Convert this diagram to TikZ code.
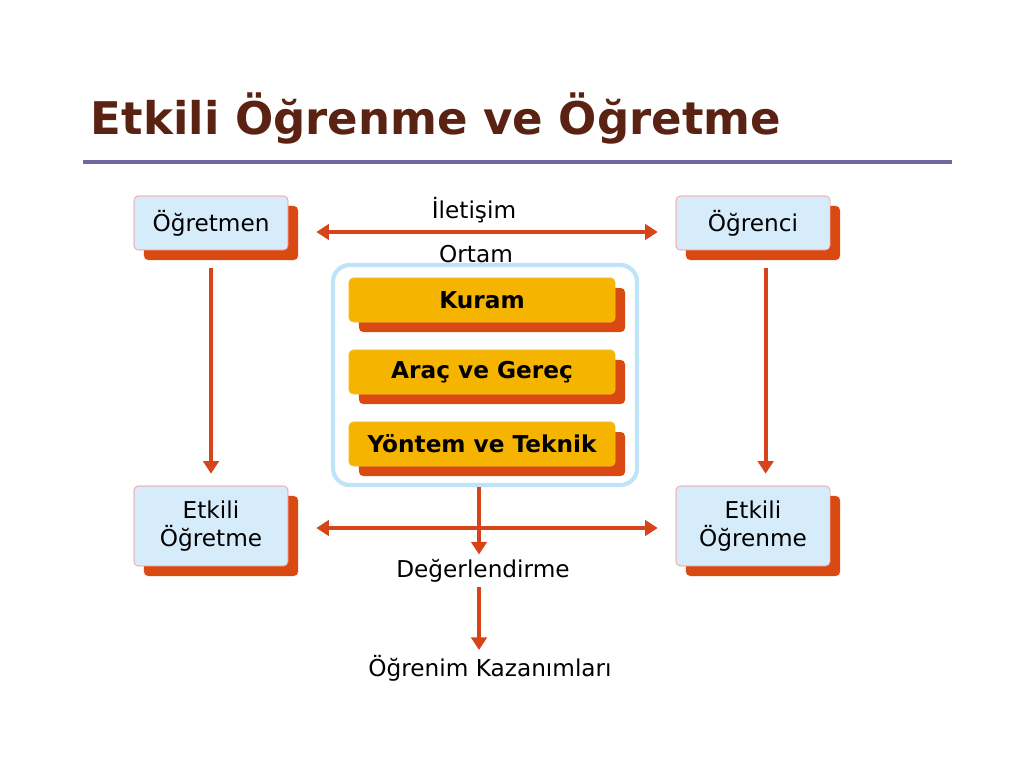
\documentclass[tikz,border=0pt]{standalone}
\usepackage{fontspec}
\setmainfont{DejaVu Sans}
\usetikzlibrary{positioning,arrows.meta,shadows}
\definecolor{boxblue}{HTML}{D6ECFA}
\definecolor{shadred}{HTML}{D94A12}
\definecolor{arrred}{HTML}{D8441A}
\definecolor{gold}{HTML}{F5B400}
\definecolor{framblue}{HTML}{BFE4F8}
\definecolor{titlebrown}{HTML}{5A2212}
\definecolor{rulecol}{HTML}{6E6A9E}
\tikzset{
  person/.style={draw=pink!70!red, fill=boxblue, rounded corners=3pt, minimum width=3.85cm, align=center,
    font=\fontsize{16.5}{20}\selectfont, drop shadow={shadow xshift=0.25cm, shadow yshift=-0.25cm, fill=shadred, opacity=1}},
  item/.style={draw=gold!80!white, fill=gold, rounded corners=3pt, minimum width=6.65cm, minimum height=1.1cm,
    font=\fontsize{16.5}{19}\selectfont\bfseries, drop shadow={shadow xshift=0.25cm, shadow yshift=-0.25cm, fill=shadred, opacity=1}},
  conn/.style={draw=arrred, line width=3pt, -{Triangle[length=9pt,width=11pt]}},
  dconn/.style={draw=arrred, line width=3pt, {Triangle[length=9pt,width=11pt]}-{Triangle[length=9pt,width=11pt]}},
  lbl/.style={font=\fontsize{16.5}{19}\selectfont}
}
\begin{document}
\begin{tikzpicture}[x=0.025cm,y=-0.025cm]
\useasboundingbox (0,0) rectangle (1024,768);
% title and rule
\node[anchor=west, font=\fontsize{32}{36}\selectfont\bfseries, text=titlebrown] (title) at (86,118) {Etkili Öğrenme ve Öğretme};
\draw[rulecol, line width=3pt] (83,162) -- (952,162);
% the four corner boxes
\node[person, minimum height=1.35cm] (teacher) at (211,223) {Öğretmen};
\node[person, minimum height=1.35cm] (student) at (753,223) {Öğrenci};
\node[person, minimum height=2cm] (eteach) at (211,526) {Etkili\\Öğretme};
\node[person, minimum height=2cm] (elearn) at (753,526) {Etkili\\Öğrenme};
% environment frame
\node[draw=framblue, line width=3pt, fill=white, rounded corners=12pt, minimum width=7.6cm, minimum height=5.5cm] (frame) at (485,375) {};
\node[item] (kuram) at (482,300) {Kuram};
\node[item] (arac) at (482,372) {Araç ve Gereç};
\node[item] (yontem) at (482,444) {Yöntem ve Teknik};
% labels
\node[lbl] (comm) at (474,210) {İletişim};
\node[lbl] (ortam) at (476,254) {Ortam};
\node[lbl] (eval) at (483,571) {Değerlendirme};
\node[lbl] (gain) at (490,668) {Öğrenim Kazanımları};
% arrows
\draw[dconn] ([xshift=0.7cm]teacher.east |- 0,232) -- ([xshift=-0.45cm]student.west |- 0,232);
\draw[dconn] ([xshift=0.7cm]eteach.east |- 0,528) -- ([xshift=-0.45cm]elearn.west |- 0,528);
\draw[conn] ([yshift=-0.45cm]teacher.south) -- ([yshift=0.3cm]eteach.north);
\draw[conn] ([xshift=9pt,yshift=-0.45cm]student.south) -- ([xshift=9pt,yshift=0.3cm]elearn.north);
\draw[conn] (frame.south -| 479,0) -- (eval.north -| 479,0);
\draw[conn] (eval.south -| 479,0) -- (gain.north -| 479,0);
\end{tikzpicture}
\end{document}
